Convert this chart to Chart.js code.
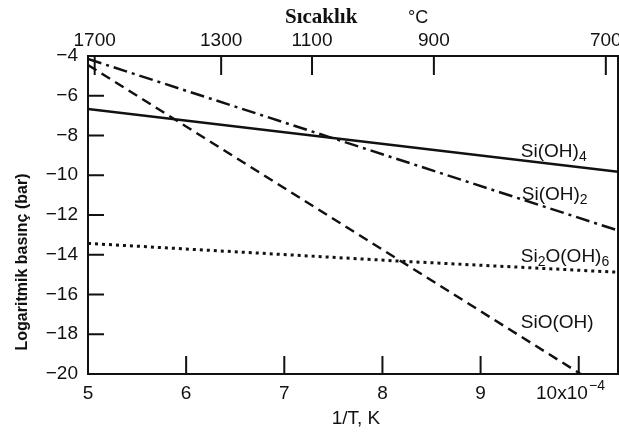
<!doctype html>
<html>
<head>
<title>Silisyum hidroksit buhar basıncı</title>
<script src="https://cdn.jsdelivr.net/npm/chart.js@4.4.0/dist/chart.umd.min.js"></script>
<style>
    body { margin: 0; background: #fff; }
</style>
</head>

<body>
<canvas id="chart" width="619" height="432"></canvas>

<script>
    // 1/T (x10^-4 1/K) and log pressure (bar) for each species
    const invTTicks = [5, 6, 7, 8, 9, 10];
    const tempTicksC = [1700, 1300, 1100, 900, 700];

    const siOH4X = [5, 10.4];
    const siOH4Y = [-6.66, -9.82];

    const siOH2X = [5, 10.4];
    const siOH2Y = [-4.15, -12.78];

    const si2OOH6X = [5, 6.96, 8.21, 10.4];
    const si2OOH6Y = [-13.43, -13.98, -14.33, -14.88];

    const siOOHX = [5, 10.02];
    const siOOHY = [-4.45, -20];

    const ink = '#111';
    const sans = '"Liberation Sans", Arial, sans-serif';

    function pts(xs, ys) {
        return xs.map((x, i) => ({ x: x, y: ys[i] }));
    }

    function series(data, dash, width) {
        return {
            data: data,
            borderColor: ink,
            borderWidth: width,
            borderDash: dash,
            pointRadius: 0,
            fill: false,
            tension: 0
        };
    }

    // keep the plot box fixed: no extra room for overhanging tick labels
    function noOverhang(s) {
        s.paddingLeft = 0;
        s.paddingRight = 0;
        s.paddingTop = 0;
        s.paddingBottom = 0;
    }

    // tick marks point into the plot, and the box is closed on the right
    const innerTicks = {
        id: 'innerTicks',
        afterDatasetsDraw(chart) {
            const { ctx, chartArea: a, scales } = chart;
            ctx.save();
            ctx.strokeStyle = ink;
            ctx.lineWidth = 2;
            ctx.beginPath();
            scales.y.ticks.forEach(t => {
                const py = scales.y.getPixelForValue(t.value);
                ctx.moveTo(a.left, py);
                ctx.lineTo(a.left + 16, py);
            });
            scales.x.ticks.forEach(t => {
                const px = scales.x.getPixelForValue(t.value);
                ctx.moveTo(px, a.bottom);
                ctx.lineTo(px, a.bottom - 18);
            });
            scales.xTop.ticks.forEach(t => {
                const px = scales.xTop.getPixelForValue(t.value);
                ctx.moveTo(px, a.top);
                ctx.lineTo(px, a.top + 19);
            });
            ctx.moveTo(a.right, a.top);
            ctx.lineTo(a.right, a.bottom);
            ctx.stroke();
            ctx.restore();
        }
    };

    // formula with a lowered/raised part, e.g. Si(OH) + 4
    function chem(ctx, parts, x, y) {
        parts.forEach(p => {
            ctx.font = p.sub ? '14px ' + sans : '19px ' + sans;
            ctx.fillText(p.t, x, y + (p.sub || 0));
            x += ctx.measureText(p.t).width;
        });
    }

    const labels = {
        id: 'labels',
        afterDraw(chart) {
            const { ctx, scales } = chart;
            const X = v => scales.x.getPixelForValue(v);
            const Y = v => scales.y.getPixelForValue(v);
            ctx.save();
            ctx.fillStyle = ink;
            ctx.textBaseline = 'alphabetic';
            ctx.textAlign = 'left';

            chem(ctx, [{ t: 'Si(OH)' }, { t: '4', sub: 4 }], X(9.41), Y(-9.07));
            chem(ctx, [{ t: 'Si(OH)' }, { t: '2', sub: 4 }], X(9.42), Y(-11.27));
            chem(ctx, [{ t: 'Si' }, { t: '2', sub: 4 }, { t: 'O(OH)' }, { t: '6', sub: 4 }], X(9.41), Y(-14.34));
            chem(ctx, [{ t: 'SiO(OH)' }], X(9.41), Y(-17.71));

            // axis titles
            ctx.font = 'bold 21px "Liberation Serif", "Times New Roman", serif';
            ctx.fillText('Sıcaklık', 285, 23);
            ctx.font = '18px ' + sans;
            ctx.fillText('°C', 408, 23);

            ctx.font = '19px ' + sans;
            ctx.textAlign = 'center';
            ctx.fillText('1/T, K', 356, 424);

            ctx.textAlign = 'left';
            ctx.fillText('10x10', 536, 399);
            ctx.font = '14px ' + sans;
            ctx.fillText('\u22124', 589, 390);

            ctx.translate(23, 262);
            ctx.rotate(-Math.PI / 2);
            ctx.textAlign = 'center';
            ctx.textBaseline = 'middle';
            ctx.font = 'bold 16px ' + sans;
            ctx.fillText('Logaritmik basınç (bar)', 0, 0);
            ctx.restore();
        }
    };

    const tickFont = { family: sans, size: 19 };

    new Chart(document.getElementById('chart'), {
        type: 'line',
        data: {
            datasets: [
                series(pts(siOH4X, siOH4Y), [], 2.5),
                series(pts(siOH2X, siOH2Y), [14, 5, 3, 5], 2.5),
                series(pts(si2OOH6X, si2OOH6Y), [3, 4], 3),
                series(pts(siOOHX, siOOHY), [10, 6], 2.5)
            ]
        },
        options: {
            responsive: false,
            animation: false,
            layout: { padding: { left: 0, right: 1, top: 0, bottom: 0 } },
            plugins: { legend: { display: false }, tooltip: { enabled: false } },
            scales: {
                x: {
                    type: 'linear',
                    position: 'bottom',
                    min: 5,
                    max: 10.4,
                    afterBuildTicks: s => { s.ticks = invTTicks.map(v => ({ value: v })); },
                    afterFit: s => { s.height = 58; noOverhang(s); },
                    grid: { display: false, drawTicks: false },
                    border: { color: ink, width: 2 },
                    ticks: {
                        color: ink, font: tickFont, padding: 8,
                        maxRotation: 0, autoSkip: false,
                        callback: v => v === 10 ? '' : v
                    }
                },
                xTop: {
                    type: 'linear',
                    position: 'top',
                    min: 5,
                    max: 10.4,
                    afterBuildTicks: s => { s.ticks = tempTicksC.map(c => ({ value: 1e4 / (c + 273.15) })); },
                    afterFit: s => { s.height = 56; noOverhang(s); },
                    grid: { display: false, drawTicks: false },
                    border: { color: ink, width: 2 },
                    ticks: {
                        color: ink, font: tickFont, padding: 4,
                        maxRotation: 0, autoSkip: false,
                        callback: (v, i) => tempTicksC[i]
                    }
                },
                y: {
                    min: -20,
                    max: -4,
                    afterFit: s => { s.width = 88; noOverhang(s); },
                    grid: { display: false, drawTicks: false },
                    border: { color: ink, width: 2 },
                    ticks: {
                        stepSize: 2, color: ink, font: tickFont, padding: 10,
                        callback: v => v < 0 ? '\u2212' + Math.abs(v) : v
                    }
                }
            }
        },
        plugins: [innerTicks, labels]
    });
</script>
</body>
</html>
